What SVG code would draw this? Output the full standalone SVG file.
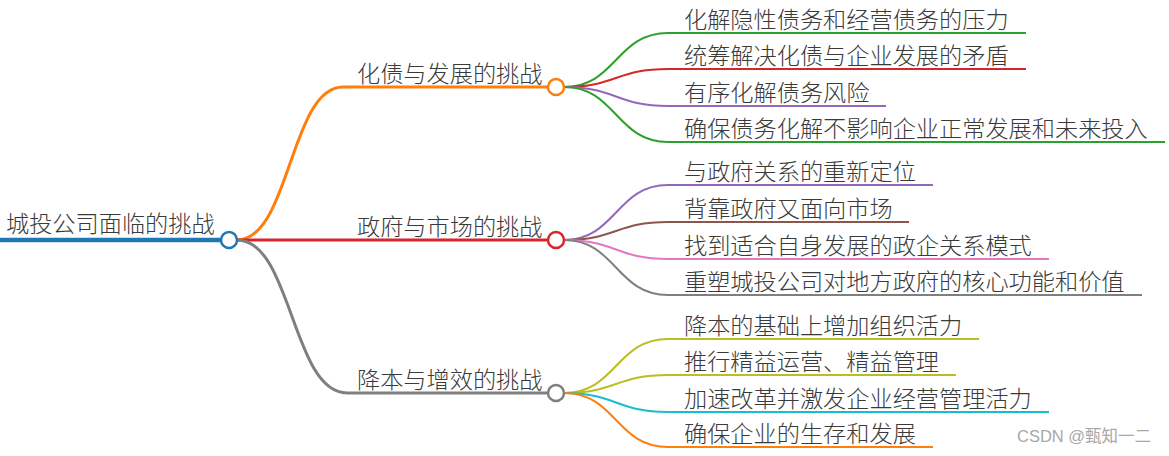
<svg xmlns="http://www.w3.org/2000/svg" width="1169" height="456" viewBox="0 0 1169 456">
<style>
  text { font-family: "Noto Sans CJK SC", "Noto Sans", sans-serif; font-size: 23.2px; font-weight: 300; fill: #3a3a3a; }
  .link { fill: none; }
  .lr { stroke-width: 4.5; }
  .lb { stroke-width: 3; }
  .ll { stroke-width: 2; }
  circle { fill: #fff; stroke-width: 2.5; }
  .wm { font-family: "Liberation Sans", "Noto Sans CJK SC", sans-serif; font-size: 16.5px; font-weight: 400; fill: #a8a8a8; }
</style>
<rect width="1169" height="456" fill="#fff"/>
<g id="connectors" class="link">
  <path d="M237,240 C290,240 290,87 343,87" stroke="#ff7f0e" class="lb"/>
  <path d="M237,240 L343,240" stroke="#d62728" class="lb"/>
  <path d="M237,240 C292,240 292,393 347,393" stroke="#7f7f7f" class="lb"/>
  <path d="M564,87 C616,87 616,33 668,33" stroke="#2ca02c" class="ll"/>
  <path d="M564,87 C616,87 616,69 668,69" stroke="#d62728" class="ll"/>
  <path d="M564,87 C616,87 616,106 668,106" stroke="#9467bd" class="ll"/>
  <path d="M564,87 C616,87 616,142 668,142" stroke="#2ca02c" class="ll"/>
  <path d="M564,240 C616,240 616,185 668,185" stroke="#9467bd" class="ll"/>
  <path d="M564,240 C616,240 616,222 668,222" stroke="#8c564b" class="ll"/>
  <path d="M564,240 C616,240 616,259 668,259" stroke="#e377c2" class="ll"/>
  <path d="M564,240 C616,240 616,295 668,295" stroke="#7f7f7f" class="ll"/>
  <path d="M564,393 C616,393 616,339 668,339" stroke="#bcbd22" class="ll"/>
  <path d="M564,393 C616,393 616,375 668,375" stroke="#bcbd22" class="ll"/>
  <path d="M564,393 C616,393 616,412 668,412" stroke="#17becf" class="ll"/>
  <path d="M564,393 C616,393 616,447 668,447" stroke="#ff7f0e" class="ll"/>
</g>
<g id="root">
  <line x1="0" y1="240" x2="221" y2="240" stroke="#1f77b4" class="lr"/>
  <text x="6" y="231.5">城投公司面临的挑战</text>
  <circle cx="229" cy="240" r="8" stroke="#1f77b4"/>
</g>
<g id="b1">
  <line x1="343" y1="87" x2="548" y2="87" stroke="#ff7f0e" class="lb"/>
  <text x="357" y="81.5">化债与发展的挑战</text>
  <circle cx="556" cy="87" r="8" stroke="#ff7f0e"/>
</g>
<g id="b2">
  <line x1="343" y1="240" x2="548" y2="240" stroke="#d62728" class="lb"/>
  <text x="357" y="234.5">政府与市场的挑战</text>
  <circle cx="556" cy="240" r="8" stroke="#d62728"/>
</g>
<g id="b3">
  <line x1="347" y1="393" x2="548" y2="393" stroke="#7f7f7f" class="lb"/>
  <text x="357" y="387.5">降本与增效的挑战</text>
  <circle cx="556" cy="393" r="8" stroke="#7f7f7f"/>
</g>
<g id="b1l1">
  <line x1="668" y1="33" x2="1026" y2="33" stroke="#2ca02c" class="ll"/>
  <text x="684" y="27.5">化解隐性债务和经营债务的压力</text>
</g>
<g id="b1l2">
  <line x1="668" y1="69" x2="1026" y2="69" stroke="#d62728" class="ll"/>
  <text x="684" y="63.5">统筹解决化债与企业发展的矛盾</text>
</g>
<g id="b1l3">
  <line x1="668" y1="106" x2="886" y2="106" stroke="#9467bd" class="ll"/>
  <text x="684" y="100.5">有序化解债务风险</text>
</g>
<g id="b1l4">
  <line x1="668" y1="142" x2="1165" y2="142" stroke="#2ca02c" class="ll"/>
  <text x="684" y="136.5">确保债务化解不影响企业正常发展和未来投入</text>
</g>
<g id="b2l1">
  <line x1="668" y1="185" x2="933" y2="185" stroke="#9467bd" class="ll"/>
  <text x="684" y="179.5">与政府关系的重新定位</text>
</g>
<g id="b2l2">
  <line x1="668" y1="222" x2="909" y2="222" stroke="#8c564b" class="ll"/>
  <text x="684" y="216.5">背靠政府又面向市场</text>
</g>
<g id="b2l3">
  <line x1="668" y1="259" x2="1049" y2="259" stroke="#e377c2" class="ll"/>
  <text x="684" y="253.5">找到适合自身发展的政企关系模式</text>
</g>
<g id="b2l4">
  <line x1="668" y1="295" x2="1142" y2="295" stroke="#7f7f7f" class="ll"/>
  <text x="684" y="289.5">重塑城投公司对地方政府的核心功能和价值</text>
</g>
<g id="b3l1">
  <line x1="668" y1="339" x2="979" y2="339" stroke="#bcbd22" class="ll"/>
  <text x="684" y="333.5">降本的基础上增加组织活力</text>
</g>
<g id="b3l2">
  <line x1="668" y1="375" x2="956" y2="375" stroke="#bcbd22" class="ll"/>
  <text x="684" y="369.5">推行精益运营、精益管理</text>
</g>
<g id="b3l3">
  <line x1="668" y1="412" x2="1049" y2="412" stroke="#17becf" class="ll"/>
  <text x="684" y="406.5">加速改革并激发企业经营管理活力</text>
</g>
<g id="b3l4">
  <line x1="668" y1="447" x2="933" y2="447" stroke="#ff7f0e" class="ll"/>
  <text x="684" y="441.5">确保企业的生存和发展</text>
</g>
<text class="wm" x="1017" y="442">CSDN @甄知一二</text>
</svg>
